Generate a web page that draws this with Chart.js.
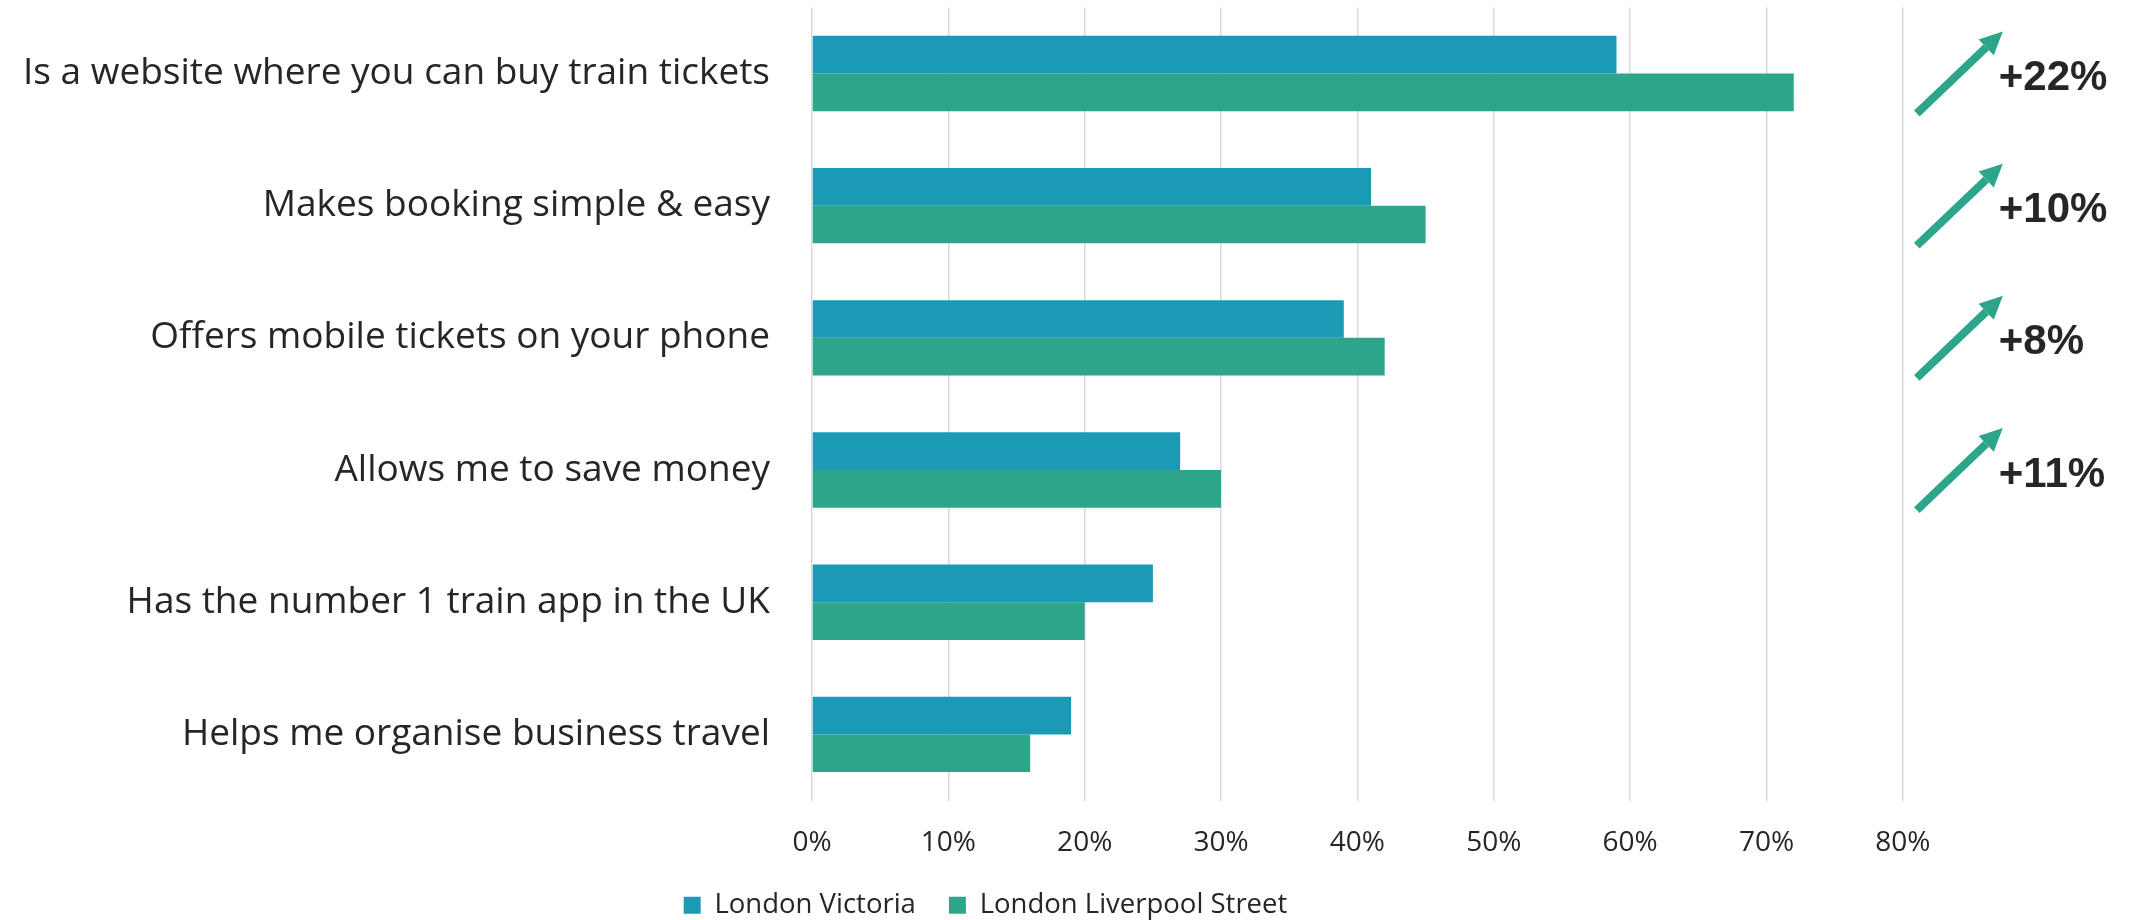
<!DOCTYPE html>
<html>
<head>
<meta charset="utf-8">
<script src="https://cdn.jsdelivr.net/npm/chart.js@4"></script>
<style>
  body { margin: 0; background: #fff; }
  #wrap { width: 2146px; height: 920px; position: relative; }
</style>
</head>
<body>
<div id="wrap"><canvas id="chart"></canvas></div>
<script>
const categories = [
  'Is a website where you can buy train tickets',
  'Makes booking simple & easy',
  'Offers mobile tickets on your phone',
  'Allows me to save money',
  'Has the number 1 train app in the UK',
  'Helps me organise business travel'
];
const victoria = [59, 41, 39, 27, 25, 19];
const liverpoolStreet = [72, 45, 42, 30, 20, 16];
const changeLabels = ['+22%', '+10%', '+8%', '+11%'];

const blue = '#1a9ab4';
const green = '#2ca58b';
const textColour = '#262626';

// arrows + change labels to the right of the 80% gridline
const changeArrows = {
  id: 'changeArrows',
  afterDraw(chart) {
    const {ctx, scales: {x, y}} = chart;
    const x0 = x.getPixelForValue(80);
    ctx.save();
    changeLabels.forEach((label, i) => {
      const cy = y.getPixelForValue(i);
      const x1 = x0 + 14, y1 = cy + 40;
      const x2 = x0 + 100, y2 = cy - 42;
      const ang = Math.atan2(y2 - y1, x2 - x1);
      const head = 23, half = 11;
      const bx = x2 - head * Math.cos(ang), by = y2 - head * Math.sin(ang);
      ctx.strokeStyle = green;
      ctx.fillStyle = green;
      ctx.lineWidth = 8;
      ctx.lineCap = 'butt';
      ctx.beginPath();
      ctx.moveTo(x1, y1);
      ctx.lineTo(bx, by);
      ctx.stroke();
      ctx.beginPath();
      ctx.moveTo(x2, y2);
      ctx.lineTo(bx + half * Math.sin(ang), by - half * Math.cos(ang));
      ctx.lineTo(bx - half * Math.sin(ang), by + half * Math.cos(ang));
      ctx.closePath();
      ctx.fill();

      ctx.font = 'bold 42px "Liberation Sans", Arial, sans-serif';
      ctx.fillStyle = textColour;
      ctx.textAlign = 'left';
      ctx.textBaseline = 'middle';
      ctx.fillText(label, x0 + 96, cy + 5);
    });
    ctx.restore();
  }
};

new Chart(document.getElementById('chart'), {
  type: 'bar',
  data: {
    labels: categories,
    datasets: [
      {label: 'London Victoria', data: victoria, backgroundColor: blue},
      {label: 'London Liverpool Street', data: liverpoolStreet, backgroundColor: green}
    ]
  },
  options: {
    indexAxis: 'y',
    responsive: true,
    maintainAspectRatio: false,
    animation: false,
    categoryPercentage: 0.57,
    barPercentage: 1,
    layout: {
      padding: {top: 0, right: 175, bottom: -9, left: 0}
    },
    plugins: {
      tooltip: {enabled: false},
      legend: {
        position: 'bottom',
        labels: {
          boxWidth: 17,
          boxHeight: 17,
          padding: 33,
          color: textColour,
          font: {family: '"Open Sans", sans-serif', size: 27.5}
        }
      }
    },
    scales: {
      x: {
        type: 'linear',
        min: 0,
        max: 85,
        afterBuildTicks: (scale) => {
          scale.ticks = scale.ticks.filter(t => t.value <= 80);
        },
        afterFit: (scale) => {
          scale.height = 58;
        },
        grid: {
          color: '#d9d9d9',
          lineWidth: 1.5,
          drawTicks: false
        },
        border: {display: false},
        ticks: {
          stepSize: 10,
          padding: 26,
          color: textColour,
          font: {family: '"Open Sans", sans-serif', size: 28},
          callback: (v) => v + '%'
        }
      },
      y: {
        afterFit: (scale) => {
          scale.width = 812;
        },
        // invisible tick marks give the gap between labels and bars
        grid: {
          display: true,
          drawOnChartArea: false,
          color: 'rgba(0,0,0,0)',
          tickLength: 42
        },
        border: {display: false},
        ticks: {
          padding: 0,
          color: textColour,
          font: {family: '"Open Sans", sans-serif', size: 37, lineHeight: 0.4}
        }
      }
    }
  },
  plugins: [changeArrows]
});
</script>
</body>
</html>
